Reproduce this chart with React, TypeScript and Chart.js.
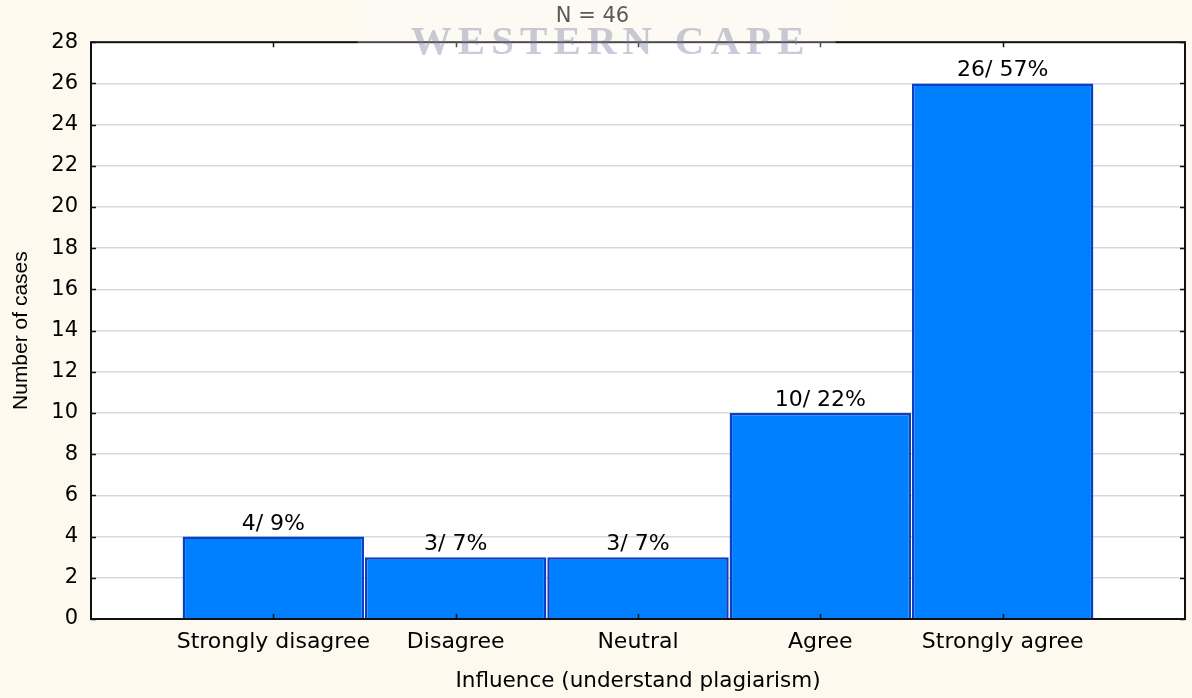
import { useEffect, useRef } from 'react';
import { Chart, registerables } from 'chart.js';

Chart.register(...registerables);

const categories = ['Strongly disagree', 'Disagree', 'Neutral', 'Agree', 'Strongly agree'];
const counts = [4, 3, 3, 10, 26];
const percents = [9, 7, 7, 22, 57];
const totalN = 46;
const yMin = 0;
const yMax = 28;
const yStep = 2;
const xTitle = 'Influence (understand plagiarism)';
const yTitle = 'Number of cases';
const watermarkText = 'WESTERN CAPE';

const BG = '#fdf9ef';
const FONT = '"DejaVu Sans", sans-serif';

export default function App() {
  const ref = useRef<HTMLCanvasElement | null>(null);

  useEffect(() => {
    document.body.style.margin = '0';
    document.body.style.background = BG;
    const canvas = ref.current;
    if (!canvas) return;

    const bgPlugin = {
      id: 'bgPlugin',
      beforeDraw(chart: any) {
        const { ctx, chartArea: a } = chart;
        ctx.save();
        ctx.fillStyle = BG;
        ctx.fillRect(0, 0, chart.width, chart.height);
        ctx.fillStyle = '#ffffff';
        ctx.fillRect(a.left, a.top, a.right - a.left, a.bottom - a.top);
        ctx.restore();
      },
    };

    const framePlugin = {
      id: 'framePlugin',
      afterDatasetsDraw(chart: any) {
        const { ctx, chartArea: a, scales } = chart;
        ctx.save();
        ctx.strokeStyle = '#111111';
        ctx.lineWidth = 1.5;
        const tl = 5;
        ctx.beginPath();
        scales.y.ticks.forEach((t: any) => {
          const py = Math.round(scales.y.getPixelForValue(t.value)) + 0.5;
          ctx.moveTo(a.left, py);
          ctx.lineTo(a.left + tl, py);
          ctx.moveTo(a.right, py);
          ctx.lineTo(a.right - tl, py);
        });
        scales.x.ticks.forEach((t: any) => {
          const px = Math.round(scales.x.getPixelForValue(t.value)) + 0.5;
          ctx.moveTo(px, a.bottom);
          ctx.lineTo(px, a.bottom - tl);
          ctx.moveTo(px, a.top);
          ctx.lineTo(px, a.top + tl);
        });
        ctx.stroke();
        ctx.lineWidth = 2;
        ctx.strokeRect(a.left, a.top, a.right - a.left, a.bottom - a.top);
        ctx.restore();
      },
    };

    const labelPlugin = {
      id: 'labelPlugin',
      afterDatasetsDraw(chart: any) {
        const { ctx } = chart;
        const meta = chart.getDatasetMeta(0);
        ctx.save();
        ctx.fillStyle = '#000000';
        ctx.font = `22px ${FONT}`;
        ctx.textAlign = 'center';
        ctx.textBaseline = 'alphabetic';
        meta.data.forEach((bar: any, i: number) => {
          ctx.fillText(`${counts[i]}/ ${percents[i]}%`, bar.x, bar.y - 7);
        });
        ctx.restore();
      },
    };

    const watermarkPlugin = {
      id: 'watermarkPlugin',
      afterDraw(chart: any) {
        const { ctx, chartArea: a } = chart;
        const cx = a.left + (a.right - a.left) * 0.475;
        ctx.save();
        ctx.fillStyle = 'rgba(255,255,255,0.25)';
        ctx.fillRect(cx - 253, 0, 478, a.top + 33);
        ctx.font = `bold 40px "Liberation Serif", serif`;
        (ctx as any).letterSpacing = '6px';
        const w = ctx.measureText(watermarkText).width;
        const target = 400;
        ctx.translate(cx, a.top + 12);
        ctx.scale(target / w, 1);
        ctx.textAlign = 'center';
        ctx.textBaseline = 'alphabetic';
        ctx.fillStyle = 'rgba(120,124,160,0.4)';
        ctx.fillText(watermarkText, 0, 0);
        ctx.restore();
      },
    };

    const chart = new Chart(canvas, {
      type: 'bar',
      data: {
        datasets: [
          {
            data: counts.map((v, i) => ({ x: i + 1, y: v })),
            backgroundColor: '#0080ff',
            borderColor: '#0a40c4',
            borderWidth: 2.5,
            barPercentage: 1,
            categoryPercentage: 0.995,
          },
        ],
      },
      options: {
        animation: false,
        responsive: false,
        devicePixelRatio: 1,
        layout: { padding: { left: 0, right: 7, top: 0, bottom: 0 } },
        plugins: {
          legend: { display: false },
          tooltip: { enabled: false },
          title: {
            display: true,
            text: `N = ${totalN}`,
            color: '#222222',
            font: { family: FONT, size: 21, weight: 'normal' },
            padding: { top: 4, bottom: 13 },
          },
        },
        scales: {
          x: {
            type: 'linear',
            offset: false,
            min: 0,
            max: categories.length + 1,
            afterBuildTicks: (scale: any) => {
              scale.ticks = categories.map((_, i) => ({ value: i + 1 }));
            },
            afterFit: (scale: any) => {
              scale.height = 79;
            },
            grid: { display: false, drawTicks: false, offset: false },
            border: { display: false },
            ticks: {
              autoSkip: false,
              maxRotation: 0,
              padding: 10,
              color: '#000000',
              font: { family: FONT, size: 22 },
              callback: (v: any) => categories[Number(v) - 1] ?? '',
            },
            title: {
              display: true,
              text: xTitle,
              color: '#000000',
              font: { family: FONT, size: 21.5 },
              padding: { top: 4, bottom: 4 },
            },
          },
          y: {
            min: yMin,
            max: yMax,
            afterFit: (scale: any) => {
              scale.width = 91;
            },
            grid: { color: '#d9d9d9', lineWidth: 1.5, drawTicks: false },
            border: { display: false },
            ticks: {
              stepSize: yStep,
              padding: 13,
              color: '#000000',
              font: { family: FONT, size: 21 },
            },
            title: {
              display: true,
              text: yTitle,
              color: '#000000',
              font: { family: '"Liberation Sans", Arial, sans-serif', size: 21 },
              padding: { top: 9, bottom: 0 },
            },
          },
        },
      },
      plugins: [bgPlugin, framePlugin, labelPlugin, watermarkPlugin],
    } as any);

    return () => chart.destroy();
  }, []);

  return (
    <div style={{ width: 1192, height: 698 }}>
      <canvas ref={ref} width={1192} height={698} style={{ display: 'block' }} />
    </div>
  );
}
